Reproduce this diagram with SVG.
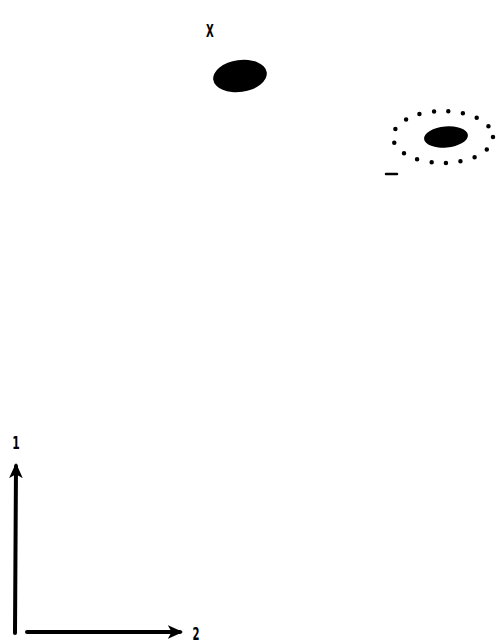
<svg xmlns="http://www.w3.org/2000/svg" width="501" height="644" viewBox="0 0 501 644">
<style>
.lbl{font-family:"DejaVu Sans Condensed","DejaVu Sans",sans-serif;font-weight:bold;fill:#000;text-anchor:middle}
.ax{stroke:#000;stroke-width:4;fill:none;stroke-linecap:round}
</style>
<defs>
<marker id="ah" viewBox="0 0 10 10" refX="8" refY="5" markerWidth="3.8" markerHeight="4" orient="auto" markerUnits="strokeWidth">
<path d="M0,0.5 L10,5 L0,9.5 L2.5,5 Z" fill="#000"/>
</marker>
</defs>
<rect width="501" height="644" fill="#fff"/>
<g id="spot-x">
<text class="lbl" x="210" y="37" font-size="14" transform="translate(210 37) scale(0.8 1.25) translate(-210 -37)">X</text>
<ellipse cx="240" cy="76" rx="27" ry="16" transform="rotate(-8 240 76)" fill="#000"/>
</g>
<g id="spot-ring">
<ellipse cx="443" cy="137" rx="50" ry="26" fill="none" stroke="#000" stroke-width="4.5" stroke-linecap="round" stroke-dasharray="0 14.5"/>
<ellipse cx="446" cy="137" rx="22" ry="10.5" transform="rotate(-5 446 137)" fill="#000"/>
<line x1="386" y1="174" x2="397" y2="174" stroke="#000" stroke-width="2.5" stroke-linecap="round"/>
</g>
<g id="axes">
<line class="ax" x1="15" y1="633" x2="16" y2="466" marker-end="url(#ah)"/>
<line class="ax" x1="27" y1="632" x2="180" y2="632" marker-end="url(#ah)"/>
<text class="lbl" x="16" y="449" font-size="15" transform="translate(16 449) scale(0.8 1.2) translate(-16 -449)">1</text>
<text class="lbl" x="196" y="640" font-size="14" transform="translate(196 640) scale(0.8 1.2) translate(-196 -640)">2</text>
</g>
</svg>
